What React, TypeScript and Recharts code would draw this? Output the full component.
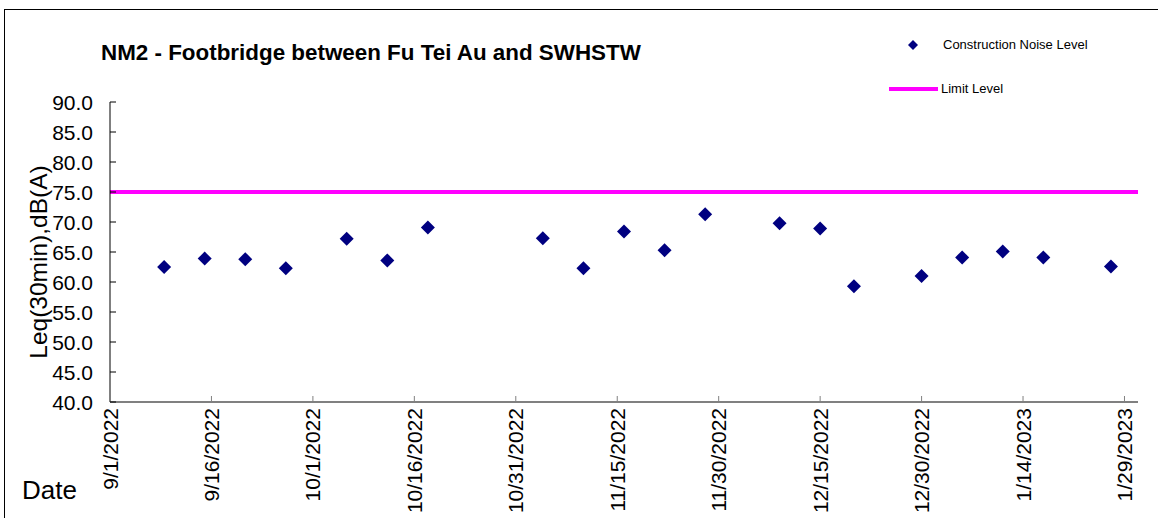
import { ReferenceLine, Scatter, ScatterChart, XAxis, YAxis } from "recharts";

const sampleDates = [
  "9/9/2022", "9/15/2022", "9/21/2022", "9/27/2022", "10/6/2022", "10/12/2022", "10/18/2022",
  "11/4/2022", "11/10/2022", "11/16/2022", "11/22/2022", "11/28/2022", "12/9/2022", "12/15/2022",
  "12/20/2022", "12/30/2022", "1/5/2023", "1/11/2023", "1/17/2023", "1/27/2023",
];
const noiseLevels = [
  62.5, 63.9, 63.8, 62.3, 67.2, 63.6, 69.1, 67.3, 62.3, 68.4,
  65.3, 71.3, 69.8, 68.9, 59.3, 61.0, 64.1, 65.1, 64.1, 62.6,
];
const tickDates = [
  "9/1/2022", "9/16/2022", "10/1/2022", "10/16/2022", "10/31/2022", "11/15/2022",
  "11/30/2022", "12/15/2022", "12/30/2022", "1/14/2023", "1/29/2023",
];
const yTicks = [40, 45, 50, 55, 60, 65, 70, 75, 80, 85, 90];
const limitLevel = 75;
const startDate = "9/1/2022";
const endDate = "1/31/2023";

function toDay(s: string) {
  const [m, d, y] = s.split("/").map(Number);
  const [m0, d0, y0] = startDate.split("/").map(Number);
  return Math.round((Date.UTC(y, m - 1, d) - Date.UTC(y0, m0 - 1, d0)) / 86400000);
}

const data = sampleDates.map((d, i) => ({ day: toDay(d), level: noiseLevels[i] }));
const xTicks = tickDates.map(toDay);
const labelByDay: Record<number, string> = {};
tickDates.forEach((d) => (labelByDay[toDay(d)] = d));

const FONT = "'Liberation Sans', Arial, sans-serif";

const Diamond = (props: any) => {
  const { cx, cy } = props;
  const r = 7;
  return <polygon points={`${cx},${cy - r} ${cx + r},${cy} ${cx},${cy + r} ${cx - r},${cy}`} fill="#000080" />;
};

const YTick = (props: any) => {
  const { x, y, payload } = props;
  return (
    <g>
      <line x1={x} x2={x + 6} y1={y} y2={y} stroke="#000" strokeWidth={1} />
      <text x={x - 17} y={y} textAnchor="end" dominantBaseline="central" fontSize={21} fontFamily={FONT} fill="#000">
        {Number(payload.value).toFixed(1)}
      </text>
    </g>
  );
};

const XTick = (props: any) => {
  const { x, y, payload } = props;
  return (
    <g>
      <line x1={x} x2={x} y1={y} y2={y - 6} stroke="#808080" strokeWidth={1} />
      <text
        x={x}
        y={y + 6}
        transform={`rotate(-90, ${x}, ${y + 6})`}
        textAnchor="end"
        dominantBaseline="central"
        fontSize={21}
        fontFamily={FONT}
        fill="#000"
      >
        {labelByDay[payload.value]}
      </text>
    </g>
  );
};

const YLabel = () => (
  <text
    x={38}
    y={262}
    transform="rotate(-90, 38, 262)"
    textAnchor="middle"
    dominantBaseline="central"
    fontSize={24.5}
    fontFamily={FONT}
    fill="#000"
  >
    Leq(30min),dB(A)
  </text>
);

const LegendBox = () => (
  <div style={{ position: "absolute", left: 880, top: 33, width: 270, height: 70, fontFamily: FONT, fontSize: 13, color: "#000" }}>
    <svg width={20} height={20} style={{ position: "absolute", left: 23, top: 2 }}>
      <polygon points="10,5 15,10 10,15 5,10" fill="#000080" />
    </svg>
    <span style={{ position: "absolute", left: 63, top: 4 }}>Construction Noise Level</span>
    <div style={{ position: "absolute", left: 9, top: 54, width: 49, height: 4, background: "#FF00FF" }} />
    <span style={{ position: "absolute", left: 61, top: 48 }}>Limit Level</span>
  </div>
);

export default function App() {
  return (
    <div style={{ position: "absolute", left: 0, top: 0, width: 1158, height: 518, background: "#fff", overflow: "hidden" }}>
      <div style={{ position: "absolute", left: 4, top: 9, width: 1154, height: 509, borderTop: "1px solid #000", borderLeft: "1px solid #000" }} />
      <div style={{ position: "absolute", left: 101, top: 40, fontFamily: FONT, fontWeight: "bold", fontSize: 22.4, color: "#000", whiteSpace: "nowrap" }}>
        NM2 - Footbridge between Fu Tei Au and SWHSTW
      </div>
      <div style={{ position: "absolute", left: 22, top: 475, fontFamily: FONT, fontSize: 26, color: "#000" }}>Date</div>
      <LegendBox />
      <ScatterChart width={1158} height={518} margin={{ top: 102, right: 20, bottom: 6, left: 0 }} style={{ position: "absolute", left: 0, top: 0 }}>
        <XAxis
          type="number"
          dataKey="day"
          domain={[0, toDay(endDate)]}
          ticks={xTicks}
          interval={0}
          height={110}
          tickSize={0}
          tickMargin={0}
          tickLine={false}
          tick={<XTick />}
          axisLine={{ stroke: "#808080", strokeWidth: 2 }}
          allowDataOverflow
        />
        <YAxis
          type="number"
          dataKey="level"
          domain={[40, 90]}
          ticks={yTicks}
          interval={0}
          width={110}
          tickSize={0}
          tickMargin={0}
          tickLine={false}
          tick={<YTick />}
          axisLine={{ stroke: "#000", strokeWidth: 1 }}
          label={{ content: () => <YLabel /> }}
        />
        <ReferenceLine y={limitLevel} stroke="#FF00FF" strokeWidth={4} />
        <Scatter name="Construction Noise Level" data={data} shape={<Diamond />} isAnimationActive={false} />
      </ScatterChart>
    </div>
  );
}
